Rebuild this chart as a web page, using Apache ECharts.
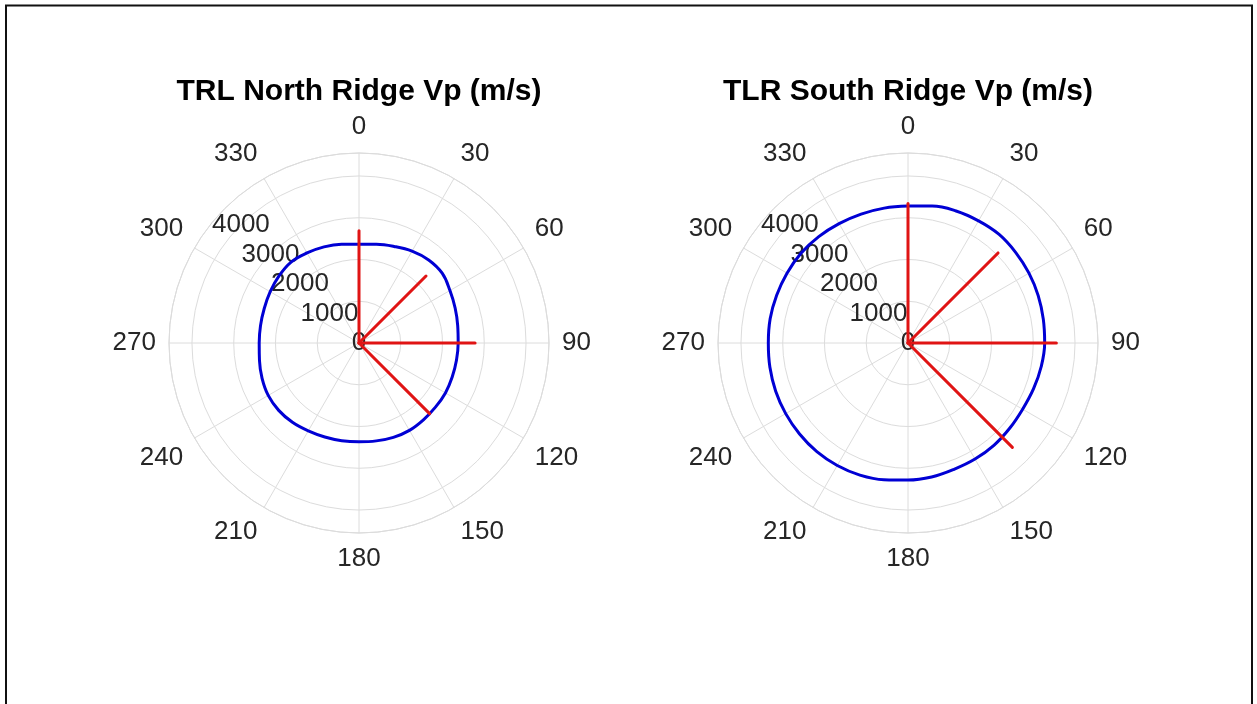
<!DOCTYPE html>
<html>
<head>
<meta charset="utf-8">
<script src="https://cdn.jsdelivr.net/npm/echarts@6/dist/echarts.min.js"></script>
<style>
  html, body { margin: 0; padding: 0; background: #ffffff; }
  #chart { width: 1257px; height: 704px; }
</style>
</head>
<body>
<div id="chart"></div>
<script>
// Azimuths (degrees clockwise from north) at which Vp was evaluated
const azimuths = [0, 10, 20, 30, 40, 50, 60, 70, 80, 90, 100, 110, 120, 130, 140, 150, 160, 170,
                  180, 190, 200, 210, 220, 230, 240, 250, 260, 270, 280, 290, 300, 310, 320, 330,
                  340, 350, 360];

// P-wave velocity (m/s) around the compass, North and South ridges
const northRidgeVp = [2365, 2400, 2460, 2540, 2595, 2600, 2515, 2450, 2400, 2375, 2370, 2375,
                      2390, 2390, 2400, 2415, 2405, 2380, 2365, 2375, 2395, 2430, 2480, 2510,
                      2510, 2470, 2420, 2390, 2395, 2415, 2455, 2500, 2530, 2490, 2450, 2400, 2365];
const southRidgeVp = [3280, 3330, 3365, 3378, 3395, 3370, 3345, 3318, 3290, 3273, 3240, 3200,
                      3170, 3178, 3200, 3210, 3220, 3258, 3282, 3325, 3367, 3388, 3396, 3390,
                      3382, 3372, 3358, 3345, 3352, 3347, 3346, 3345, 3325, 3300, 3285, 3280, 3280];

// Measured profile directions and their velocities (m/s)
const profileAzimuths = [0, 45, 90, 135];
const northRidgeProfiles = [2690, 2270, 2780, 2390];
const southRidgeProfiles = [3340, 3050, 3553, 3535];

const panelTitles = ['TRL North Ridge Vp (m/s)', 'TLR South Ridge Vp (m/s)'];
const radialMax = 4550;
const radialStep = 1000;
const angleStep = 30;

const FONT = 'Arial, "Liberation Sans", Helvetica, sans-serif';
const TEXT = '#262626';
const GRID = '#dcdcdc';

const panels = [
  { center: [359, 343], vp: northRidgeVp, profiles: northRidgeProfiles, title: panelTitles[0] },
  { center: [908, 343], vp: southRidgeVp, profiles: southRidgeProfiles, title: panelTitles[1] }
];

const polar = [], angleAxis = [], radiusAxis = [], series = [], graphic = [];

panels.forEach((p, i) => {
  const main = i * 2, lbl = i * 2 + 1;
  // Main polar grid: north at top, clockwise azimuth
  polar.push({ center: p.center, radius: 190 });
  // Overlay polar used only to run the radial tick labels along the NW ray
  polar.push({ center: p.center, radius: 190 });

  angleAxis.push({
    polarIndex: main, type: 'value', min: 0, max: 360, interval: angleStep,
    startAngle: 90, clockwise: true,
    axisLine: { show: true, lineStyle: { color: GRID, width: 1 } },
    axisTick: { show: false },
    splitLine: { show: true, lineStyle: { color: GRID, width: 1 } },
    axisLabel: { show: true, color: TEXT, fontSize: 26, fontFamily: FONT, margin: 13 }
  });
  angleAxis.push({
    polarIndex: lbl, type: 'value', min: 0, max: 360, startAngle: 135, show: false
  });

  radiusAxis.push({
    polarIndex: main, type: 'value', min: 0, max: radialMax, interval: radialStep,
    axisLine: { show: false }, axisTick: { show: false },
    axisLabel: { show: false },
    splitLine: { show: true, lineStyle: { color: GRID, width: 1 } }
  });
  radiusAxis.push({
    polarIndex: lbl, type: 'value', min: 0, max: radialMax, interval: radialStep,
    axisLine: { show: false }, axisTick: { show: false }, splitLine: { show: false },
    axisLabel: {
      show: true, color: TEXT, fontSize: 26, fontFamily: FONT, margin: 0,
      align: 'center', verticalAlign: 'middle', showMaxLabel: false,
      formatter: v => (v % radialStep === 0 ? String(v) : '')
    }
  });

  series.push({
    type: 'line', coordinateSystem: 'polar', polarIndex: main,
    data: azimuths.map((a, k) => [p.vp[k], a]),
    smooth: 0.4, showSymbol: false, silent: true, z: 3,
    lineStyle: { color: '#0000d4', width: 3, join: 'round' }
  });

  profileAzimuths.forEach((a, k) => {
    series.push({
      type: 'line', coordinateSystem: 'polar', polarIndex: main,
      data: [[0, a], [p.profiles[k], a]],
      showSymbol: false, silent: true, z: 4,
      lineStyle: { color: '#e01414', width: 3, cap: 'round' }
    });
  });

  graphic.push({
    type: 'text', x: p.center[0], y: 92, silent: true,
    style: {
      text: p.title, fill: '#000000', font: 'bold 30px ' + FONT,
      align: 'center', verticalAlign: 'middle'
    }
  });
});

// Figure frame
graphic.push({
  type: 'rect', silent: true, z: 100,
  shape: { x: 6, y: 5.5, width: 1246, height: 800 },
  style: { fill: 'none', stroke: '#111111', lineWidth: 2 }
});

const chart = echarts.init(document.getElementById('chart'), null, { renderer: 'canvas' });
chart.setOption({
  backgroundColor: '#ffffff',
  animation: false,
  polar, angleAxis, radiusAxis, series, graphic
});
</script>
</body>
</html>
